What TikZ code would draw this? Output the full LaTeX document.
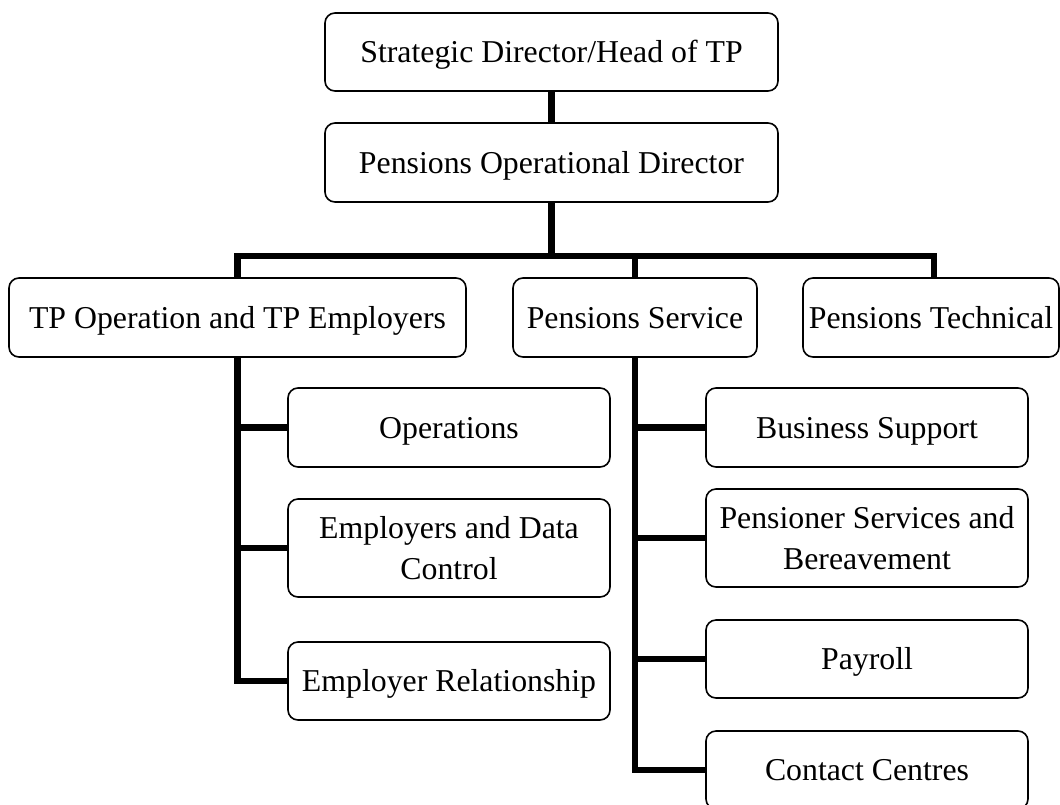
\documentclass[tikz,border=0pt]{standalone}
\usepackage{fontspec}
\setmainfont{Liberation Serif}
\usetikzlibrary{calc}
\begin{document}
\begin{tikzpicture}[x=1pt,y=-1pt,
  box/.style={draw=black, line width=1.6pt, rounded corners=10pt, inner sep=0pt,
    font=\fontsize{31.8}{41}\selectfont, align=center},
  onebox/.style={box, text height=21pt, text depth=0pt},
  conn/.style={draw=black, line width=6.2pt, line join=miter}]
\useasboundingbox (0,0) rectangle (1060,804);
\clip (0,0) rectangle (1060,804);
\fill[white] (0,0) rectangle (1060,804);
% level 0/1
\node[onebox, minimum width=453pt, minimum height=78pt] (top) at (551.5,52) {Strategic Director/Head of TP};
\node[onebox, minimum width=453pt, minimum height=79pt] (pod) at (551.5,162.5) {Pensions Operational Director};
% level 2
\node[onebox, minimum width=457pt, minimum height=79pt] (tpo) at (237.5,317.5) {TP Operation and TP Employers};
\node[onebox, minimum width=244pt, minimum height=79pt] (ps) at (635,317.5) {Pensions Service};
\node[onebox, minimum width=256pt, minimum height=79pt] (pt) at (931,317.5) {Pensions Technical};
% left branch
\node[onebox, minimum width=322pt, minimum height=79pt] (ops) at (449,427.5) {Operations};
\node[box, minimum width=322pt, minimum height=98pt] (edc) at (449,548) {Employers and Data\\Control};
\node[onebox, minimum width=322pt, minimum height=78pt] (er) at (449,681) {Employer Relationship};
% right branch
\node[onebox, minimum width=322pt, minimum height=79pt] (bs) at (867,427.5) {Business Support};
\node[box, minimum width=322pt, minimum height=98pt] (psb) at (867,538) {Pensioner Services and\\Bereavement};
\node[onebox, minimum width=322pt, minimum height=78pt] (pay) at (867,659) {Payroll};
\node[onebox, minimum width=322pt, minimum height=78pt] (cc) at (867,770) {Contact Centres};
% connectors
\coordinate (bus) at (551.5,256);
\draw[conn] (top.south) -- (pod.north);
\draw[conn] (pod.south) -- (bus);
\draw[conn] (tpo.north) |- (bus) -| ($(pt.north)+(3,0)$);
\draw[conn] (ps.north |- bus) -- (ps.north);
\draw[conn] (tpo.south) |- (er.west);
\draw[conn] (tpo.south |- ops.west) -- (ops.west);
\draw[conn] (tpo.south |- edc.west) -- (edc.west);
\draw[conn] (ps.south) |- (cc.west);
\draw[conn] (ps.south |- bs.west) -- (bs.west);
\draw[conn] (ps.south |- psb.west) -- (psb.west);
\draw[conn] (ps.south |- pay.west) -- (pay.west);
\end{tikzpicture}
\end{document}
